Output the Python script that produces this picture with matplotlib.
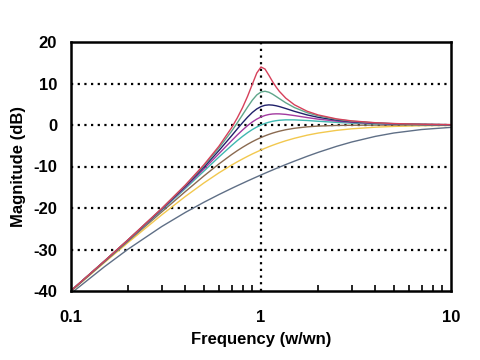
import matplotlib
matplotlib.use("Agg")
import matplotlib.pyplot as plt
from matplotlib.ticker import LogLocator, NullFormatter, FixedLocator

# Frequency (w/wn) sample points
freq = [0.1, 0.15, 0.2, 0.3, 0.4, 0.5, 0.6, 0.7, 0.75, 0.8, 0.85, 0.9, 0.95, 1.0, 1.05,
        1.1, 1.15, 1.2, 1.25, 1.35, 1.5, 1.75, 2, 2.5, 3, 4, 5, 7, 10]

# Magnitude (dB) for each curve (damping ratio label)
mag_z010 = [-39.9, -32.77, -27.61, -20.12, -14.45, -9.62, -5.14, -0.67, 1.70, 4.21, 6.93, 9.81, 12.52, 13.98, 13.48,
            11.99, 10.47, 9.17, 8.09, 6.47, 4.86, 3.31, 2.42, 1.47, 0.99, 0.55, 0.35, 0.18, 0.09]
mag_z020 = [-39.92, -32.78, -27.64, -20.18, -14.56, -9.84, -5.57, -1.50, 0.51, 2.47, 4.33, 5.98, 7.24, 7.96, 8.13,
            7.90, 7.44, 6.89, 6.35, 5.35, 4.20, 2.96, 2.20, 1.36, 0.92, 0.51, 0.33, 0.16, 0.08]
mag_z030 = [-39.93, -32.80, -27.67, -20.27, -14.75, -10.19, -6.19, -2.60, -0.95, 0.56, 1.90, 3.02, 3.87, 4.44, 4.75,
            4.85, 4.79, 4.64, 4.44, 3.97, 3.29, 2.43, 1.85, 1.17, 0.80, 0.45, 0.29, 0.15, 0.07]
mag_z040 = [-39.94, -32.83, -27.72, -20.39, -14.99, -10.63, -6.93, -3.79, -2.41, -1.20, -0.14, 0.73, 1.42, 1.94, 2.30,
            2.53, 2.65, 2.69, 2.68, 2.56, 2.27, 1.79, 1.41, 0.93, 0.64, 0.37, 0.24, 0.12, 0.06]
mag_z050 = [-39.96, -32.86, -27.79, -20.55, -15.29, -11.14, -7.73, -4.95, -3.77, -2.74, -1.85, -1.10, -0.49, 0.0, 0.38,
            0.67, 0.89, 1.04, 1.14, 1.24, 1.23, 1.08, 0.90, 0.63, 0.45, 0.26, 0.17, 0.09, 0.04]
mag_z071 = [-40.0, -32.96, -27.97, -20.96, -16.03, -12.30, -9.40, -7.13, -6.19, -5.37, -4.65, -4.02, -3.48, -3.01, -2.61,
            -2.26, -1.96, -1.71, -1.49, -1.14, -0.79, -0.44, -0.26, -0.11, -0.06, -0.02, -0.01, 0.00, 0.0]
mag_z100 = [-40.09, -33.15, -28.30, -21.67, -17.21, -13.98, -11.54, -9.66, -8.87, -8.18, -7.55, -6.98, -6.48, -6.02, -5.61,
            -5.23, -4.89, -4.58, -4.30, -3.80, -3.20, -2.45, -1.94, -1.29, -0.92, -0.53, -0.34, -0.18, -0.09]
mag_z200 = [-40.57, -34.15, -29.90, -24.48, -21.06, -18.63, -16.77, -15.28, -14.63, -14.04, -13.48, -12.97, -12.49, -12.04, -11.62,
            -11.22, -10.85, -10.49, -10.16, -9.53, -8.71, -7.54, -6.59, -5.14, -4.10, -2.74, -1.93, -1.09, -0.57]

series = [mag_z200, mag_z100, mag_z071, mag_z050, mag_z040, mag_z030, mag_z020, mag_z010]
colors = ["#5f6f86", "#f2c84e", "#8a6a50", "#3fb7b0", "#a23aa0", "#20206a", "#5fa58a", "#d6405a"]

x_ticks = [0.1, 1, 10]
x_ticklabels = ["0.1", "1", "10"]
y_ticks = [-40, -30, -20, -10, 0, 10, 20]
y_grid = [-30, -20, -10, 0, 10]

plt.rcParams['font.family'] = ['Liberation Sans', 'DejaVu Sans']

fig = plt.figure(figsize=(4.8, 3.6), dpi=100)
ax = fig.add_axes([71/480, 1-291/360, 380/480, 249/360])

for s, c in zip(series, colors):
    ax.plot(freq, s, color=c, lw=1.0, solid_capstyle='round', solid_joinstyle='round')

for yv in y_grid:
    ax.axhline(yv, color='black', lw=1.6, ls=(0, (1, 2)), zorder=0.5)
ax.axvline(1, color='black', lw=1.6, ls=(0, (1, 2)), zorder=0.5)

ax.set_xscale('log')
ax.set_xlim(0.1, 10)
ax.set_ylim(-40, 20)
ax.xaxis.set_major_locator(FixedLocator(x_ticks))
ax.set_xticklabels(x_ticklabels)
ax.xaxis.set_minor_locator(LogLocator(base=10, subs=range(2, 10)))
ax.xaxis.set_minor_formatter(NullFormatter())
ax.set_yticks(y_ticks)
ax.set_yticklabels([str(v) for v in y_ticks])
ax.tick_params(axis='x', which='minor', direction='in', length=4, width=1.2)
ax.tick_params(axis='x', which='major', direction='in', length=0, pad=14)
ax.tick_params(axis='y', which='major', length=0, pad=10)
for lab in ax.get_xticklabels() + ax.get_yticklabels():
    lab.set_fontweight('bold')
    lab.set_fontsize(12)

for sp in ax.spines.values():
    sp.set_linewidth(1.8)

ax.set_xlabel('Frequency (w/wn)', fontsize=12, fontweight='bold', labelpad=5)
ax.set_ylabel('Magnitude (dB)', fontsize=12, fontweight='bold', labelpad=5)

fig.savefig('out.png', dpi=100)
